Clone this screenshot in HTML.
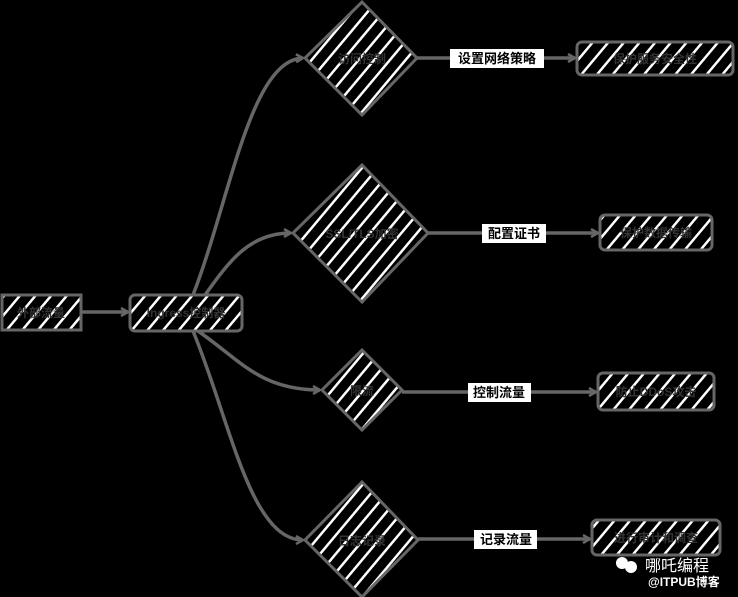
<!DOCTYPE html>
<html><head><meta charset="utf-8"><style>
html,body{margin:0;padding:0;background:#000;}
svg{display:block;}
text{font-family:"Liberation Sans","Noto Sans CJK SC",sans-serif;}
</style></head><body>
<svg width="738" height="597" viewBox="0 0 738 597" xmlns="http://www.w3.org/2000/svg">
<defs>
<pattern id="h" patternUnits="userSpaceOnUse" width="12" height="12" patternTransform="rotate(40)">
<rect width="12" height="12" fill="#000"/><rect width="2.5" height="12" fill="#fff"/>
</pattern>
<marker id="a" markerWidth="10" markerHeight="10" refX="8" refY="5" orient="auto" markerUnits="userSpaceOnUse">
<path d="M1,1 L8,5 L1,9" fill="none" stroke="#666" stroke-width="2.5"/>
</marker>
</defs>
<g stroke="#666" stroke-width="3.5" fill="none">
<path d="M81,312 L128,312" marker-end="url(#a)"/>
<path d="M193,295 C230,200 250,60 303,58" marker-end="url(#a)"/>
<path d="M205,295 C230,260 250,233 291,233" marker-end="url(#a)"/>
<path d="M198,331 C240,360 260,390 320,390" marker-end="url(#a)"/>
<path d="M193,331 C230,420 250,540 303,540" marker-end="url(#a)"/>
<path d="M417,58 L575,58" marker-end="url(#a)"/>
<path d="M428,233 L598,233" marker-end="url(#a)"/>
<path d="M402,392 L596,392" marker-end="url(#a)"/>
<path d="M418,539 L590,539" marker-end="url(#a)"/>
</g>
<g stroke="#666" stroke-width="3" fill="url(#h)">
<rect x="2" y="295" width="79" height="35"/>
<rect x="130" y="295" width="112" height="36" rx="5"/>
<polygon points="362,2 417,58 362,115 305,58"/>
<polygon points="362,165 428,233 362,302 293,233"/>
<polygon points="362,350 402,390 362,430 322,390"/>
<polygon points="362,482 418,540 362,597 305,540"/>
<rect x="577" y="42" width="156" height="33" rx="5"/>
<rect x="600" y="215" width="112" height="35" rx="5"/>
<rect x="598" y="373" width="116" height="37" rx="5"/>
<rect x="592" y="520" width="128" height="35" rx="5"/>
</g>
<g fill="#333" font-size="12" font-weight="bold" text-anchor="middle">
<text x="41" y="317">外部流量</text>
<text x="186" y="317">Ingress控制器</text>
<text x="362" y="63">访问控制</text>
<text x="362" y="238">SSL/TLS加密</text>
<text x="362" y="395">限流</text>
<text x="362" y="545">日志记录</text>
<text x="655" y="63">保护服务安全性</text>
<text x="656" y="237">保护数据传输</text>
<text x="656" y="396">防止DDoS攻击</text>
<text x="656" y="542">进行审计和调查</text>
</g>
<g font-size="13" font-weight="bold">
<rect x="450" y="49" width="94" height="19" fill="#fff"/>
<text x="497" y="63" text-anchor="middle" fill="#000">设置网络策略</text>
<rect x="482" y="224" width="64" height="19" fill="#fff"/>
<text x="514" y="238" text-anchor="middle" fill="#000">配置证书</text>
<rect x="468" y="383" width="63" height="19" fill="#fff"/>
<text x="499" y="397" text-anchor="middle" fill="#000">控制流量</text>
<rect x="474" y="530" width="63" height="19" fill="#fff"/>
<text x="506" y="544" text-anchor="middle" fill="#000">记录流量</text>
</g>
<g fill="#fff">
<circle cx="622" cy="563" r="6"/><circle cx="631" cy="567" r="6"/>
<text x="645" y="571" font-size="16">哪吒编程</text>
<text x="648" y="586" font-size="12" font-weight="bold">@ITPUB博客</text>
</g>
</svg>
</body></html>
